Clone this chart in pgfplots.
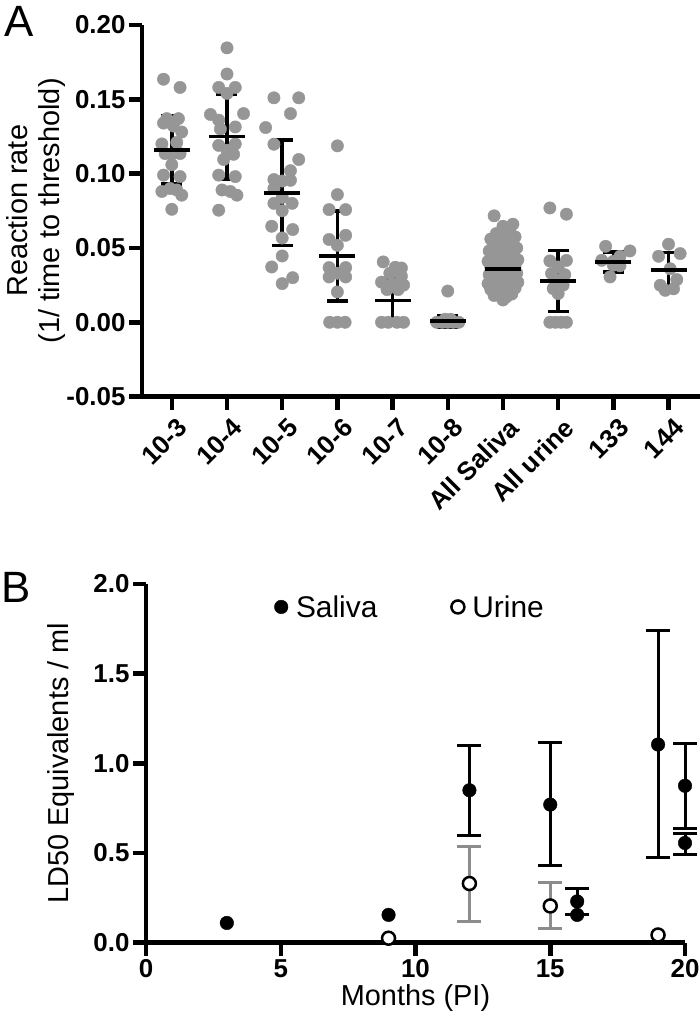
\documentclass[border=0pt]{standalone}
\usepackage{fontspec}
\setmainfont{Liberation Sans}
\usepackage{pgfplots}
\usepackage{pgfplotstable}
\pgfplotsset{compat=1.18}
\definecolor{dotgray}{RGB}{150,150,150}
\definecolor{bargray}{RGB}{140,140,140}

\pgfplotstableread{
x y
0.85 0.1635
1.15 0.158
0.91 0.137
1.12 0.137
0.85 0.134
1.03 0.132
1.18 0.128
0.82 0.120
1.09 0.121
0.88 0.1135
1.00 0.113
1.15 0.1135
1.00 0.106
0.85 0.099
1.15 0.098
0.82 0.088
0.97 0.090
1.09 0.089
1.18 0.0855
1.00 0.076
2.00 0.1846
2.00 0.167
1.85 0.158
2.15 0.158
2.00 0.154
1.70 0.1398
2.30 0.1404
1.85 0.136
2.15 0.1314
1.88 0.130
1.85 0.119
2.15 0.120
2.00 0.1157
2.12 0.113
1.94 0.1095
1.85 0.099
2.15 0.098
1.91 0.089
2.06 0.088
2.18 0.0855
1.85 0.0754
2.85 0.151
3.30 0.151
3.15 0.1404
2.70 0.131
2.85 0.1198
3.30 0.1095
3.15 0.102
2.85 0.096
3.00 0.095
3.15 0.0955
2.85 0.090
3.00 0.084
2.85 0.080
3.18 0.080
3.00 0.075
2.81 0.0646
3.19 0.0624
3.00 0.0567
3.00 0.0446
2.81 0.0372
3.19 0.030
3.00 0.026
4.00 0.1187
4.00 0.0859
3.85 0.0758
4.15 0.0758
3.85 0.0557
4.15 0.0585
4.00 0.0518
3.85 0.0368
4.15 0.0368
3.85 0.0305
4.15 0.0305
4.00 0.033
4.00 0.0204
3.86 0.0
4.00 0.0
4.14 0.0
4.83 0.0406
5.16 0.0365
5.05 0.037
4.95 0.033
5.16 0.031
4.80 0.027
5.00 0.026
5.20 0.025
4.90 0.022
5.10 0.022
4.80 0.0
4.92 0.0
5.08 0.0
5.20 0.0
6.00 0.021
5.80 0.0
5.90 0.0
6.00 0.0
6.10 0.0
6.20 0.0
5.95 0.002
6.05 0.002
6.84 0.0716
7.00 0.0646
7.18 0.066
7.12 0.0608
6.88 0.0597
7.22 0.0575
6.78 0.056
7.05 0.057
6.95 0.054
7.15 0.053
6.82 0.051
7.25 0.050
7.00 0.049
6.75 0.048
7.10 0.047
6.90 0.046
7.20 0.045
6.80 0.044
7.00 0.043
7.27 0.042
6.73 0.041
7.12 0.040
6.88 0.039
7.22 0.038
6.78 0.037
7.04 0.037
6.96 0.036
7.16 0.035
6.84 0.034
7.25 0.033
6.75 0.032
7.08 0.031
6.92 0.030
7.20 0.029
6.80 0.028
7.00 0.028
7.27 0.027
6.73 0.026
7.12 0.025
6.88 0.024
7.22 0.023
6.78 0.022
7.04 0.022
6.94 0.020
7.16 0.019
6.84 0.018
7.06 0.017
7.00 0.015
7.85 0.0769
8.15 0.0727
7.85 0.0413
8.15 0.0416
8.00 0.0372
7.88 0.0328
8.12 0.032
7.97 0.0283
8.09 0.025
7.91 0.0227
8.00 0.0193
7.85 0.0
7.95 0.0
8.05 0.0
8.15 0.0
8.86 0.0511
9.30 0.048
9.12 0.0444
8.79 0.0417
9.00 0.0384
9.12 0.038
8.94 0.0305
9.00 0.041
10.00 0.0525
9.82 0.0444
10.21 0.0462
9.85 0.0249
10.15 0.0287
9.94 0.0215
10.09 0.0225
10.03 0.036
}\dotsA

\pgfplotstableread{
x y e
1 0.116 0.023
2 0.125 0.0286
3 0.087 0.0355
4 0.0446 0.0303
5 0.0148 0.0147
6 0.0008 0.0039
7 0.0357 0.0129
8 0.0278 0.0205
9 0.0406 0.0067
10 0.035 0.0118
}\meansA

\begin{document}
\begin{tikzpicture}
\useasboundingbox (0bp,0bp) rectangle (700bp,1026bp);

% Panel A
\begin{axis}[
  at={(142bp,629.4bp)}, anchor=south west,
  scale only axis, width=558bp, height=371.6bp,
  xmin=0.46, xmax=10.57, ymin=-0.05, ymax=0.2,
  axis lines=left, axis line style={-, line width=4.5bp, black},
  tick align=outside, major tick length=13bp,
  tick style={line width=4.5bp, black},
  xtick={1,...,10},
  xticklabels={10-3,10-4,10-5,10-6,10-7,10-8,All Saliva,All urine,133,144},
  ytick={-0.05,0,0.05,0.1,0.15,0.2},
  scaled y ticks=false,
  /pgf/number format/assume math mode=true,
  yticklabel style={/pgf/number format/.cd, fixed, fixed zerofill, precision=2},
  tick label style={font=\bfseries\fontsize{26}{26}\selectfont},
  xticklabel style={rotate=45, anchor=north east, inner sep=2bp, yshift=-6bp},
  ylabel={Reaction rate\\(1/ time to threshold)},
  ylabel style={at={(axis description cs:-0.19,0.5)}, anchor=center, align=center,
    font=\fontsize{29}{33}\selectfont},
  clip=false,
]
\addplot[only marks, mark=*, mark size=6.2bp, mark options={fill=dotgray, draw=dotgray}] table[x=x, y=y] {\dotsA};
\addplot[only marks, mark=-, mark size=18bp, mark options={line width=3.5bp, black},
  error bars/.cd, y dir=both, y explicit,
  error bar style={line width=3.5bp, black},
  error mark=|, error mark options={mark size=10.5bp, line width=3.5bp, black}]
  table[x=x, y=y, y error=e] {\meansA};
\end{axis}

% Panel B
\begin{axis}[
  at={(146bp,83.3bp)}, anchor=south west,
  scale only axis, width=539bp, height=358.7bp,
  xmin=0, xmax=20, ymin=0, ymax=2,
  axis lines=left, axis line style={-, line width=4.5bp, black},
  tick align=outside, major tick length=13bp,
  tick style={line width=4.5bp, black},
  xtick={0,5,10,15,20},
  ytick={0,0.5,1,1.5,2},
  scaled y ticks=false,
  /pgf/number format/assume math mode=true,
  yticklabel style={/pgf/number format/.cd, fixed, fixed zerofill, precision=1},
  tick label style={font=\bfseries\fontsize{26}{26}\selectfont},
  xlabel={Months (PI)},
  ylabel={LD50 Equivalents / ml},
  label style={font=\fontsize{29}{33}\selectfont},
  ylabel style={at={(axis description cs:-0.158,0.5)}, anchor=center},
  clip=false,
  legend columns=2,
  legend style={draw=none, fill=none, at={(0.49,0.936)}, anchor=center,
    font=\fontsize{30}{30}\selectfont,
    /tikz/every odd column/.append style={column sep=6bp},
    /tikz/every even column/.append style={column sep=72bp}},
]
\addplot[forget plot, only marks, mark=none,
  error bars/.cd, y dir=both, y explicit,
  error bar style={line width=3bp, black},
  error mark=|, error mark options={mark size=12bp, line width=3bp, black}]
  coordinates {
  (12,0.85) += (0,0.25) -= (0,0.25)
  (15,0.77) += (0,0.345) -= (0,0.34)
  (16,0.23) += (0,0.07) -= (0,0.07)
  (19,1.105) += (0,0.638) -= (0,0.628)
  (20,0.875) += (0,0.238) -= (0,0.237)
  (20,0.556) += (0,0.055) -= (0,0.066)
  };
\addplot[forget plot, only marks, mark=none,
  error bars/.cd, y dir=both, y explicit,
  error bar style={line width=3bp, bargray},
  error mark=|, error mark options={mark size=12bp, line width=3bp, bargray}]
  coordinates {
  (12,0.33) += (0,0.205) -= (0,0.213)
  (15,0.205) += (0,0.132) -= (0,0.125)
  };
\addplot[only marks, mark=*, mark size=6.8bp, mark options={fill=black, draw=black}]
  coordinates {(3,0.11) (9,0.155) (12,0.85) (15,0.77) (16,0.23) (16,0.155) (19,1.105) (20,0.875) (20,0.556)};
\addlegendentry{Saliva}
\addplot[only marks, mark=*, mark size=6.5bp, mark options={fill=white, draw=black, line width=2.5bp}]
  coordinates {(9,0.025) (12,0.33) (15,0.205) (19,0.043)};
\addlegendentry{Urine}
\end{axis}

\node[anchor=base, font=\fontsize{44}{44}\selectfont] at (19bp,989bp) {A};
\node[anchor=base, font=\fontsize{44}{44}\selectfont] at (16bp,423bp) {B};
\end{tikzpicture}
\end{document}
